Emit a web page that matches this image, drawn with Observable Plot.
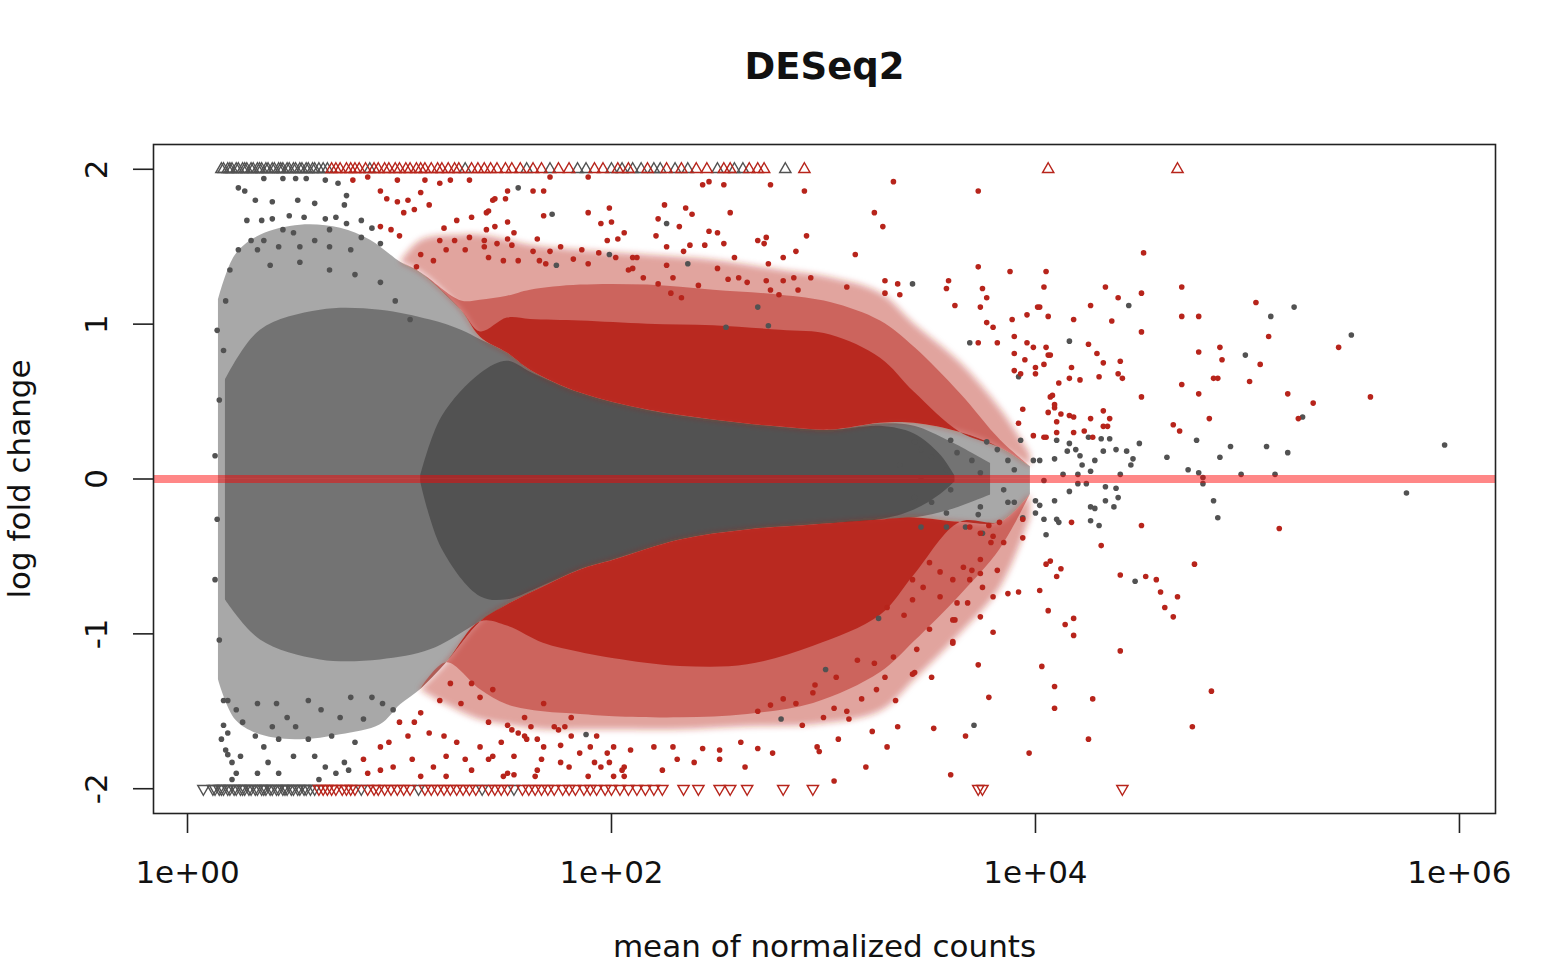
<!DOCTYPE html>
<html>
<head>
<meta charset="utf-8">
<script src="https://cdn.jsdelivr.net/npm/d3@7"></script>
<script src="https://cdn.jsdelivr.net/npm/@observablehq/plot@0.6"></script>
<style>
  html, body { margin: 0; padding: 0; background: #fff; }
  #chart svg { display: block; }
</style>
</head>
<body>
<div id="chart"></div>
<script>
// ---- DATA (x values are log10 of mean of normalized counts, y is log fold change) ----
const xTicks = [1, 100, 1e4, 1e6];
const xTickLabels = ["1e+00", "1e+02", "1e+04", "1e+06"];
const yTicks = [-2, -1, 0, 1, 2];

// Boundary between non-significant (gray) and significant (red) genes
const upperBoundary = [[1.005,1.40],[1.104,1.329],[1.292,1.090],[1.382,0.916],[1.509,0.813],[1.618,0.703],[1.854,0.555],[2.170,0.445],[2.481,0.381],[2.797,0.335],[3.033,0.316],[3.269,0.360],[3.429,0.360],[3.646,0.300],[3.835,0.200],[3.976,0.080]];
const lowerBoundary = [[1.099,-1.361],[1.222,-1.187],[1.382,-0.923],[1.509,-0.813],[1.679,-0.697],[1.854,-0.587],[2.014,-0.523],[2.325,-0.394],[2.642,-0.329],[2.953,-0.297],[3.269,-0.265],[3.429,-0.252],[3.646,-0.280],[3.835,-0.280],[3.976,-0.100]];

// Extent of the dense red clouds (aligned with the boundary samples)
const redUpOuter = [1.40,1.542,1.574,1.574,1.542,1.510,1.477,1.445,1.413,1.348,1.300,1.200,1.000,0.750,0.450,0.160];
const redUpMid   = [1.40,1.329,1.150,1.155,1.180,1.219,1.252,1.252,1.219,1.187,1.140,1.020,0.850,0.550,0.250,0.080];
const redUpCore  = [1.40,1.329,1.090,0.950,1.039,1.030,1.020,1.000,0.990,0.960,0.930,0.780,0.560,0.300,0.200,0.080];
const redLoOuter = [-1.361,-1.458,-1.555,-1.587,-1.619,-1.619,-1.619,-1.619,-1.600,-1.587,-1.500,-1.300,-1.000,-0.700,-0.250];
const redLoMid   = [-1.361,-1.187,-1.361,-1.458,-1.503,-1.520,-1.535,-1.542,-1.520,-1.450,-1.250,-1.050,-0.750,-0.450,-0.100];
const redLoCore  = [-1.361,-1.187,-0.923,-0.950,-1.060,-1.120,-1.160,-1.210,-1.200,-1.080,-0.880,-0.620,-0.280,-0.280,-0.100];

// Extent of the dense gray cloud
const grayOuterTop = [[0.146,1.155],[0.226,1.445],[0.344,1.574],[0.533,1.639],[0.722,1.619],[0.863,1.542]].concat(upperBoundary);
const grayOuterBottom = [[0.146,-1.297],[0.226,-1.555],[0.344,-1.652],[0.533,-1.684],[0.722,-1.652],[0.910,-1.587],[1.005,-1.458]].concat(lowerBoundary);
const grayMidTop = [[0.179,0.639],[0.344,0.961],[0.627,1.090],[0.910,1.090],[1.146,1.026],[1.292,0.961],[1.382,0.900],[1.509,0.813],[1.618,0.703],[1.854,0.555],[2.170,0.445],[2.481,0.381],[2.797,0.335],[3.033,0.316],[3.269,0.355],[3.429,0.340],[3.599,0.240],[3.788,0.100]];
const grayMidBottom = [[0.179,-0.781],[0.344,-1.039],[0.627,-1.168],[0.910,-1.168],[1.146,-1.103],[1.335,-0.960],[1.509,-0.813],[1.679,-0.697],[1.854,-0.587],[2.014,-0.523],[2.325,-0.394],[2.642,-0.329],[2.953,-0.297],[3.269,-0.265],[3.429,-0.252],[3.599,-0.200],[3.788,-0.103]];
const grayCoreTop = [[1.100,0.02],[1.200,0.400],[1.382,0.680],[1.509,0.760],[1.618,0.690],[1.854,0.553],[2.170,0.443],[2.481,0.379],[2.797,0.333],[3.033,0.314],[3.269,0.340],[3.429,0.290],[3.552,0.155],[3.620,0.02]];
const grayCoreBottom = [[1.100,-0.02],[1.200,-0.450],[1.382,-0.760],[1.509,-0.780],[1.679,-0.690],[1.854,-0.585],[2.014,-0.520],[2.325,-0.392],[2.642,-0.327],[2.953,-0.295],[3.269,-0.263],[3.429,-0.200],[3.552,-0.100],[3.620,-0.02]];

// Individually visible non-significant genes
const grayPoints = [
[0.24,1.88],[0.27,1.86],[0.36,1.94],[0.45,1.94],[0.51,1.94],[0.56,1.94],[0.65,1.93],[0.71,1.91],[0.32,1.80],[0.40,1.79],[0.52,1.80],[0.60,1.78],[0.75,1.83],[0.74,1.77],[0.28,1.67],[0.35,1.67],[0.40,1.68],[0.48,1.70],[0.55,1.69],[0.65,1.68],[0.70,1.69],[0.82,1.67],[0.24,1.48],[0.30,1.54],[0.36,1.54],[0.45,1.61],[0.50,1.59],[0.60,1.54],[0.67,1.61],[0.75,1.65],[0.82,1.56],[0.87,1.62],[0.91,1.52],[0.77,1.48],[0.67,1.50],[0.53,1.50],[0.43,1.50],[0.33,1.48],
[0.14,0.96],[0.15,0.51],[0.13,0.15],[0.14,-0.26],[0.13,-0.65],[0.15,-1.04],[0.17,-1.43],[0.20,1.35],[0.18,1.15],[0.17,0.83],[0.19,-1.78],[0.17,-1.59],[0.21,-1.94],
[0.39,1.38],[0.53,1.40],[0.67,1.35],[0.79,1.32],[0.91,1.27],[0.98,1.15],[1.05,1.03],
[0.16,-1.68],[0.18,-1.75],[0.21,-1.83],[0.23,-1.90],[0.19,-1.43],[0.23,-1.49],[0.26,-1.57],[0.32,-1.66],[0.36,-1.73],[0.33,-1.45],[0.42,-1.45],[0.47,-1.54],[0.40,-1.60],[0.51,-1.60],[0.57,-1.68],[0.50,-1.79],[0.38,-1.83],[0.33,-1.90],[0.60,-1.79],[0.68,-1.66],[0.74,-1.83],[0.65,-1.86],[0.79,-1.70],[0.83,-1.55],[0.72,-1.54],[0.63,-1.49],[0.92,-1.45],[0.97,-1.49],[0.87,-1.41],[0.77,-1.41],[0.57,-1.43],[0.70,-1.90],[0.43,-1.68],[0.62,-1.94],[0.76,-1.88],[0.25,-1.79],[0.19,-1.64],[0.43,-1.90],
[1.56,1.88],[1.72,1.71],[1.74,1.38],[1.99,1.45],[2.26,1.65],[2.36,1.39],[3.42,1.26],[2.69,1.11],[2.74,0.99],[2.54,0.98],[3.69,0.88],[3.92,0.66],[1.88,-1.65],[2.80,-1.55],[3.71,-1.59],[3.01,-1.23],[3.26,-0.90],
[3.43,0.24],[3.46,0.19],[3.51,0.14],[3.60,0.25],[3.63,0.17],[3.70,0.12],[3.77,0.24],[3.82,0.19],[3.87,0.12],[3.90,0.06],[3.74,0.04],[3.58,0.06],[3.46,0.01],[3.36,0.09],[3.93,0.25],[3.99,0.12],[3.85,-0.07],[3.90,-0.15],[4.00,-0.14],[4.00,-0.22],[3.94,-0.25],[3.87,-0.15],[3.74,-0.18],[3.67,-0.31],[3.58,-0.22],[3.51,-0.15],[3.46,-0.31],[3.75,-0.35],[3.60,-0.07],[3.43,-0.12],[3.73,-0.23],[3.58,-0.31],
[4.44,1.12],[4.16,0.89],[5.11,1.05],[5.22,1.11],[5.49,0.93],[4.99,0.80],[5.26,0.40],[4.76,0.25],[4.62,0.14],[4.92,0.21],[4.87,0.14],[5.09,0.21],[5.19,0.17],[5.93,0.22],[4.10,0.25],[4.16,0.23],[4.19,0.19],[4.15,0.18],[4.21,0.15],[4.25,0.27],[4.31,0.26],[4.35,0.26],[4.32,0.18],[4.38,0.19],[4.43,0.18],[4.49,0.23],[4.46,0.13],[4.45,0.09],[4.28,0.12],[4.22,0.09],[4.26,0.05],[4.09,0.13],[4.02,0.12],[4.13,0.03],[4.20,0.03],[4.40,0.03],[4.72,0.06],[4.77,0.04],[4.79,0.01],[4.97,0.03],[5.13,0.03],[4.04,-0.01],[4.20,-0.03],[4.24,-0.03],[4.33,-0.05],[4.79,-0.03],[4.16,-0.08],[4.09,-0.14],[4.38,-0.06],[4.33,-0.14],[4.39,-0.12],[4.37,-0.18],[4.02,-0.17],[4.26,-0.18],[4.28,-0.19],[4.04,-0.26],[4.10,-0.26],[4.11,-0.28],[4.26,-0.27],[4.30,-0.30],[4.05,-0.36],[4.84,-0.14],[4.86,-0.25],[5.75,-0.09],[4.47,-0.66]
];

// Individually visible significant genes
const redPoints = [
[0.78,1.93],[0.85,1.95],[0.91,1.86],[0.94,1.81],[0.99,1.79],[1.04,1.80],[1.07,1.74],[1.14,1.77],[0.99,1.93],[1.12,1.93],[1.19,1.91],[1.24,1.93],[1.33,1.93],[1.10,1.85],[1.02,1.72],[1.21,1.62],[1.27,1.67],[1.34,1.69],[1.41,1.72],[1.44,1.80],[1.51,1.86],[0.91,1.63],[0.96,1.61],[1.00,1.57],[1.19,1.54],[1.26,1.54],[1.33,1.56],[1.41,1.61],[1.40,1.54],[1.31,1.48],[1.22,1.48],[1.16,1.41],[1.10,1.45],[1.08,1.37],
[1.71,1.95],[1.89,1.95],[1.63,1.86],[1.68,1.86],[1.45,1.81],[1.50,1.81],[1.42,1.73],[1.68,1.70],[1.89,1.72],[1.99,1.75],[1.95,1.65],[2.00,1.66],[1.45,1.63],[1.51,1.66],[1.54,1.59],[1.51,1.55],[1.65,1.55],[1.46,1.52],[1.53,1.51],[1.40,1.50],[1.76,1.50],[1.63,1.47],[1.71,1.47],[1.86,1.48],[1.98,1.54],[2.03,1.55],[2.06,1.59],[1.94,1.46],[1.82,1.42],[1.42,1.43],[1.49,1.41],[1.56,1.41],[1.66,1.41],[1.69,1.39],[1.89,1.39],[2.02,1.43],[2.10,1.43],[2.12,1.43],[2.08,1.35],[2.10,1.36],[2.21,1.57],[2.25,1.77],[2.22,1.68],[2.32,1.63],[2.35,1.75],[2.38,1.71],[2.43,1.90],[2.46,1.92],[2.53,1.90],[2.75,1.90],[2.91,1.86],[2.56,1.72],[2.46,1.60],[2.50,1.59],[2.53,1.52],[2.44,1.51],[2.37,1.51],[2.34,1.47],[2.26,1.50],[2.26,1.38],[2.58,1.43],[2.69,1.54],[2.73,1.56],[2.72,1.52],[2.92,1.57],[2.87,1.47],[2.81,1.43],[2.74,1.39],[2.50,1.36],[3.33,1.92],[3.73,1.86],[3.24,1.72],[3.28,1.63],[3.15,1.45],[3.73,1.37],[3.29,1.28],[3.35,1.26],[3.11,1.24],[3.59,1.28],[3.58,1.23],[3.75,1.23],[3.29,1.20],[3.36,1.19],[2.94,1.30],[2.86,1.30],[2.81,1.28],[2.88,1.22],[2.75,1.22],[2.79,1.19],[2.73,1.28],[2.60,1.30],[2.64,1.27],[2.55,1.29],[2.41,1.25],[2.33,1.17],[2.28,1.20],[2.22,1.26],[2.15,1.30],[2.29,1.30],
[3.88,1.34],[3.96,1.06],[4.01,1.11],[3.62,1.12],[3.77,1.17],[3.74,1.11],[3.77,1.01],[3.89,1.03],[3.90,0.92],[3.80,0.98],[3.73,0.88],[3.82,0.88],[3.90,0.81],[3.96,0.88],[3.99,0.85],[4.06,0.80],[3.95,0.77],[4.00,0.72],[4.00,0.68],[3.93,0.68],[3.90,0.70],[4.07,0.53],[4.09,0.46],[3.94,0.45],[3.92,0.36],[3.99,0.28],[4.04,0.27],
[4.51,1.46],[4.05,1.34],[4.04,1.24],[4.33,1.24],[4.39,1.17],[4.50,1.20],[4.26,1.12],[4.02,1.11],[4.06,1.05],[4.18,1.03],[4.36,1.02],[4.50,0.95],[4.69,1.24],[4.69,1.05],[4.77,1.05],[5.04,1.14],[5.10,0.92],[5.43,0.85],[4.05,0.85],[4.07,0.80],[4.25,0.87],[4.29,0.81],[4.32,0.75],[4.40,0.76],[4.04,0.74],[4.17,0.72],[4.16,0.65],[4.21,0.64],[4.30,0.66],[4.39,0.68],[4.41,0.65],[4.11,0.62],[4.77,0.82],[4.87,0.85],[4.88,0.77],[5.06,0.74],[4.84,0.65],[4.86,0.65],[5.01,0.63],[4.69,0.61],[4.50,0.53],[4.77,0.55],[5.19,0.55],[5.31,0.49],[5.58,0.53],[4.08,0.54],[4.09,0.48],[4.06,0.43],[4.12,0.42],[4.16,0.41],[4.18,0.40],[4.10,0.37],[4.26,0.39],[4.32,0.44],[4.35,0.39],[4.32,0.34],[4.34,0.34],[4.05,0.27],[4.10,0.30],[4.18,0.30],[4.23,0.31],[4.27,0.27],[4.65,0.35],[4.68,0.31],[4.82,0.39],[5.24,0.39],
[3.83,-0.28],[3.94,-0.26],[3.85,-0.41],[3.80,-0.37],[3.94,-0.38],[3.82,-0.59],[3.70,-0.59],[3.75,-0.70],[3.68,-0.80],[3.62,-0.91],[3.74,-0.89],[3.80,-0.99],[3.87,-0.74],[3.92,-0.73],[3.73,-1.20],[3.61,-1.06],[3.51,-1.28],[3.43,-1.25],[3.78,-1.41],[3.52,-1.61],[3.67,-1.66],[3.60,-1.91],[3.97,-1.77],[3.74,-0.61],[3.55,-0.60],[3.61,-0.65],[3.47,-0.70],[3.50,-0.54],[3.66,-0.57],[3.74,-0.52],[3.42,-0.65],[3.79,-0.41],[3.74,-0.35],[3.78,-0.30],[3.69,-0.31],[3.16,-1.17],[3.24,-1.19],[3.33,-1.15],[3.44,-1.10],[3.50,-0.97],[3.61,-1.05],[3.61,-0.91],[3.55,-0.76],[3.63,-0.80],[3.80,-0.76],[3.38,-0.88],[3.30,-0.83],[3.42,-0.78],[3.69,-0.65],[3.42,-1.26],[3.34,-1.43],[3.25,-1.36],[3.29,-1.28],[3.18,-1.42],[3.11,-1.50],[3.05,-1.48],[3.06,-1.28],[2.96,-1.33],[2.95,-1.38],[2.87,-1.45],[2.81,-1.42],[2.75,-1.46],[2.69,-1.50],
[1.42,-1.81],[1.44,-1.79],[1.49,-1.92],[1.54,-1.91],[1.64,-1.92],[1.53,-1.62],[1.56,-1.64],[1.60,-1.68],[1.65,-1.68],[1.51,-1.59],[1.62,-1.60],[1.67,-1.81],[1.76,-1.72],[1.75,-1.62],[1.78,-1.60],[1.80,-1.86],[1.89,-1.92],[1.92,-1.83],[1.90,-1.73],[1.98,-1.77],[1.99,-1.83],[2.01,-1.92],[2.06,-1.92],[2.06,-1.86],[2.09,-1.75],[2.24,-1.88],[2.20,-1.73],[2.29,-1.73],[2.31,-1.81],[2.39,-1.83],[2.43,-1.74],[2.51,-1.75],[2.51,-1.81],[2.61,-1.70],[2.63,-1.86],[2.69,-1.74],[2.76,-1.77],[2.97,-1.73],[2.98,-1.76],[3.05,-1.95],[3.20,-1.86],[3.30,-1.73],[3.07,-1.68],[3.35,-1.60],[3.23,-1.63],[3.12,-1.55],[3.00,-1.54],[2.90,-1.59],
[0.83,-1.81],[0.91,-1.73],[0.95,-1.70],[1.04,-1.66],[1.10,-1.51],[1.14,-1.64],[1.21,-1.66],[1.27,-1.70],[1.31,-1.81],[1.22,-1.79],[1.16,-1.86],[1.06,-1.81],[0.97,-1.86],[0.91,-1.88],[0.85,-1.90],[1.10,-1.92],[1.22,-1.92],[1.34,-1.88],[1.38,-1.73],[1.42,-1.57],[1.48,-1.70],[1.54,-1.79],[1.51,-1.90],[1.29,-1.45],[1.19,-1.43],[1.38,-1.41],[1.44,-1.36],[1.00,-1.57],[1.07,-1.57],[1.24,-1.32],[1.34,-1.32],[1.59,-1.66],[1.68,-1.73],[1.65,-1.88],[1.76,-1.83],[1.85,-1.77],[1.81,-1.66],[1.73,-1.60],[1.59,-1.54],[1.81,-1.54],[1.93,-1.66],[2.01,-1.73],[1.95,-1.86],[2.05,-1.88],[1.68,-1.45],
[4.17,-0.28],[4.50,-0.30],[5.15,-0.32],[4.31,-0.43],[4.07,-0.53],[4.05,-0.55],[4.12,-0.58],[4.10,-0.63],[4.02,-0.72],[4.40,-0.62],[4.52,-0.63],[4.57,-0.65],[4.75,-0.55],[4.59,-0.73],[4.67,-0.76],[4.61,-0.83],[4.65,-0.89],[4.06,-0.85],[4.18,-0.90],[4.14,-0.94],[4.18,-1.01],[4.40,-1.11],[4.03,-1.21],[4.09,-1.34],[4.27,-1.42],[4.09,-1.48],[4.83,-1.37],[4.74,-1.60],[4.25,-1.68]
];

// Genes beyond the y limits (drawn as triangles at +2 / -2)
const topGrayTri = [0.16,0.17,0.19,0.20,0.21,0.23,0.24,0.26,0.27,0.28,0.30,0.31,0.33,0.34,0.35,0.37,0.38,0.40,0.41,0.43,0.44,0.45,0.47,0.48,0.50,0.51,0.53,0.54,0.56,0.57,0.59,0.60,0.62,0.64,0.66,0.86,1.31,1.60,1.71,1.84,1.88,2.00,2.05,2.10,2.14,2.20,2.23,2.30,2.36,2.50,2.58,2.62,2.82];
const topRedTri = [0.68,0.70,0.72,0.75,0.77,0.79,0.81,0.84,0.88,0.90,0.93,0.95,0.98,1.00,1.03,1.05,1.08,1.10,1.12,1.15,1.18,1.20,1.23,1.26,1.28,1.34,1.37,1.40,1.43,1.46,1.50,1.53,1.57,1.63,1.67,1.75,1.80,1.92,1.96,2.03,2.08,2.17,2.26,2.33,2.40,2.45,2.53,2.56,2.65,2.69,2.72,2.91,4.06,4.67];
const botGrayTri = [0.075,0.12,0.13,0.15,0.16,0.17,0.19,0.20,0.22,0.23,0.25,0.26,0.27,0.29,0.30,0.32,0.33,0.35,0.36,0.37,0.39,0.40,0.42,0.43,0.45,0.46,0.47,0.49,0.50,0.52,0.53,0.55,0.56,0.58,0.60,0.82,1.09,1.39,1.54];
const botRedTri = [0.62,0.64,0.66,0.68,0.70,0.73,0.75,0.77,0.79,0.85,0.88,0.90,0.93,0.96,0.99,1.02,1.05,1.12,1.15,1.18,1.21,1.24,1.27,1.30,1.33,1.36,1.42,1.45,1.48,1.51,1.58,1.61,1.64,1.67,1.70,1.73,1.77,1.80,1.83,1.87,1.90,1.93,1.97,2.00,2.04,2.08,2.12,2.16,2.20,2.24,2.34,2.41,2.51,2.56,2.64,2.81,2.95,3.73,3.75,4.41];

// ---- DRAWING ----
const GRAY = "#525252";
const RED = "#b7241b";
const TEXT = "#111";
const toX = v => 10 ** v;

const triangleDown = {
  draw(context, size) {
    const y = -Math.sqrt(size / (Math.sqrt(3) * 3));
    context.moveTo(0, -y * 2);
    context.lineTo(-Math.sqrt(3) * y, y);
    context.lineTo(Math.sqrt(3) * y, y);
    context.closePath();
  }
};

function halfArea(rows, fill, opacity) {
  return Plot.areaY(rows, {x: d => toX(d[0]), y1: 0, y2: d => d[1], fill, fillOpacity: opacity, curve: "catmull-rom"});
}
function redArea(boundary, outer, opacity) {
  const rows = boundary.map((b, i) => [b[0], b[1], outer[i]]);
  return Plot.areaY(rows, {x: d => toX(d[0]), y1: d => d[1], y2: d => d[2], fill: RED, fillOpacity: opacity, curve: "catmull-rom"});
}

const chart = Plot.plot({
  width: 1560,
  height: 980,
  marginLeft: 153,
  marginRight: 65,
  marginTop: 144,
  marginBottom: 167,
  style: {fontFamily: "'DejaVu Sans', sans-serif", background: "#fff", color: TEXT},
  x: {type: "log", domain: [10 ** -0.1604, 10 ** 6.170]},
  y: {domain: [-2.16, 2.16]},
  marks: [
    halfArea(grayOuterTop, GRAY, 0.5),
    halfArea(grayOuterBottom, GRAY, 0.5),
    halfArea(grayMidTop, GRAY, 0.62),
    halfArea(grayMidBottom, GRAY, 0.62),
    halfArea(grayCoreTop, GRAY, 1),
    halfArea(grayCoreBottom, GRAY, 1),
    redArea(upperBoundary, redUpOuter, 0.42),
    redArea(upperBoundary, redUpMid, 0.5),
    redArea(upperBoundary, redUpCore, 0.92),
    redArea(lowerBoundary, redLoOuter, 0.42),
    redArea(lowerBoundary, redLoMid, 0.5),
    redArea(lowerBoundary, redLoCore, 0.92),
    Plot.dot(grayPoints, {x: d => toX(d[0]), y: d => d[1], r: 2.8, fill: GRAY}),
    Plot.dot(redPoints, {x: d => toX(d[0]), y: d => d[1], r: 2.8, fill: RED}),
    Plot.dot(topGrayTri, {x: d => toX(d), y: 2, symbol: "triangle", r: 4.2, fill: "none", stroke: GRAY, strokeWidth: 1.4}),
    Plot.dot(topRedTri, {x: d => toX(d), y: 2, symbol: "triangle", r: 4.2, fill: "none", stroke: RED, strokeWidth: 1.4}),
    Plot.dot(botGrayTri, {x: d => toX(d), y: -2, symbol: triangleDown, r: 4.2, fill: "none", stroke: GRAY, strokeWidth: 1.4}),
    Plot.dot(botRedTri, {x: d => toX(d), y: -2, symbol: triangleDown, r: 4.2, fill: "none", stroke: RED, strokeWidth: 1.4}),
    Plot.ruleY([0], {stroke: "#ff0000", strokeOpacity: 0.47, strokeWidth: 8}),
    Plot.frame({stroke: "#222", strokeWidth: 1.6}),
    Plot.axisX({ticks: xTicks, tickSize: 20, tickFormat: () => "", stroke: "#222", strokeWidth: 1.6}),
    Plot.axisY({ticks: yTicks, tickSize: 20, tickFormat: () => "", stroke: "#222", strokeWidth: 1.6}),
    Plot.text(xTicks, {x: d => d, text: (d, i) => xTickLabels[i], frameAnchor: "bottom", dy: 60, lineAnchor: "middle", textAnchor: "middle", fontSize: 31, fill: TEXT}),
    Plot.text(yTicks, {y: d => d, text: d => String(d), frameAnchor: "left", dx: -56, rotate: -90, lineAnchor: "middle", textAnchor: "middle", fontSize: 31, fill: TEXT}),
    Plot.text(["DESeq2"], {text: d => d, frameAnchor: "top", dy: -77, lineAnchor: "middle", textAnchor: "middle", fontSize: 37, fontWeight: "bold", fill: TEXT}),
    Plot.text(["mean of normalized counts"], {text: d => d, frameAnchor: "bottom", dy: 134, lineAnchor: "middle", textAnchor: "middle", fontSize: 31, fill: TEXT}),
    Plot.text(["log fold change"], {text: d => d, frameAnchor: "left", dx: -133, rotate: -90, lineAnchor: "middle", textAnchor: "middle", fontSize: 31, fill: TEXT})
  ]
});

// Soften the outer edges of the sparse red density layers (they fade out as points thin).
const defs = d3.select(chart).insert("defs", ":first-child");
defs.append("filter").attr("id", "soft-edge").attr("x", "-10%").attr("y", "-10%").attr("width", "120%").attr("height", "120%")
  .append("feGaussianBlur").attr("stdDeviation", 3);
const areaGroups = chart.querySelectorAll('g[aria-label="area"]');
[6, 9].forEach(i => { if (areaGroups[i]) areaGroups[i].setAttribute("filter", "url(#soft-edge)"); });

document.getElementById("chart").appendChild(chart);
</script>
</body>
</html>
